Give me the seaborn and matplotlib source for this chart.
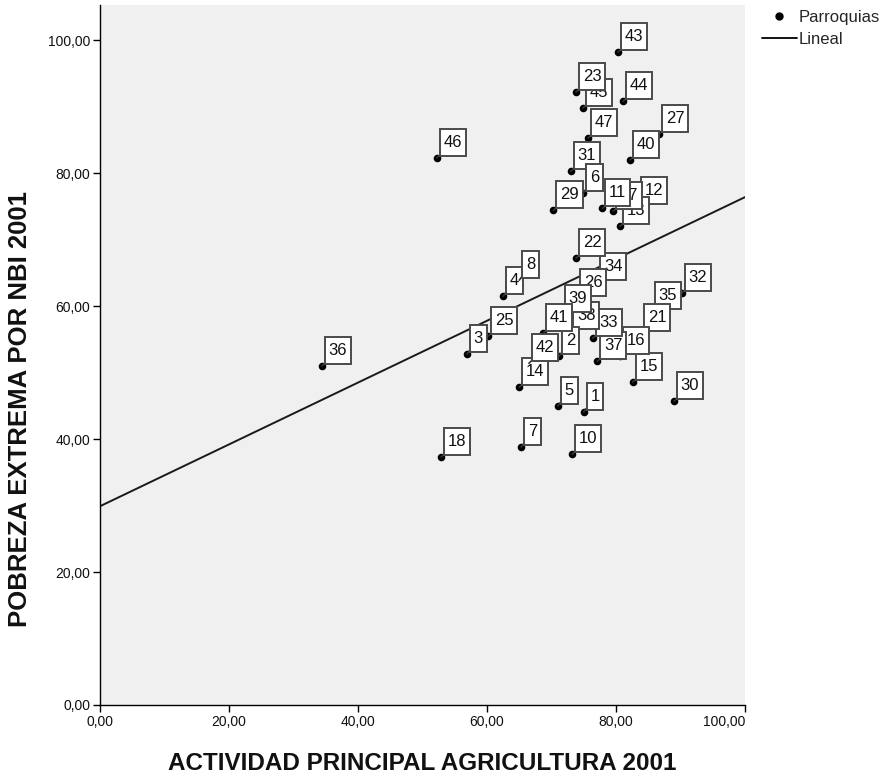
import matplotlib
matplotlib.use("Agg")
import matplotlib.pyplot as plt
from matplotlib.lines import Line2D
from matplotlib.path import Path
from matplotlib.ticker import FuncFormatter
import seaborn as sns
import pandas as pd

# ---- data ----
labels = ["36", "46", "18", "3", "25", "4", "8", "7", "14", "42", "5", "10", "1",
          "30", "15", "32", "35", "21", "16", "37", "33", "34", "26", "38", "39",
          "2", "41", "22", "29", "31", "6", "12", "13", "17", "11", "47", "27",
          "40", "45", "23", "44", "43"]
agri = [34.4, 52.2, 52.9, 56.9, 60.2, 62.5, 65.0, 65.3, 65.0, 66.5, 71.0, 73.2, 75.0,
        89.0, 82.6, 90.2, 85.6, 83.9, 80.6, 77.1, 76.4, 77.1, 74.0, 72.9, 71.6,
        71.2, 68.7, 73.8, 70.3, 73.0, 74.9, 83.4, 80.6, 79.6, 77.9, 75.7, 86.7,
        82.2, 74.9, 73.8, 81.1, 80.3]
pobreza = [51.0, 82.3, 37.3, 52.8, 55.5, 61.5, 63.9, 38.8, 47.8, 51.4, 45.0, 37.7, 44.1,
           45.7, 48.6, 62.0, 59.2, 55.9, 52.5, 51.7, 55.2, 63.6, 61.2, 56.2, 58.8,
           52.5, 55.9, 67.2, 74.4, 80.3, 77.0, 75.0, 72.0, 74.3, 74.7, 85.3, 85.9,
           82.0, 89.8, 92.2, 90.8, 98.2]
fit_intercept = 29.9
fit_slope = 0.465

x_ticks = [0, 20, 40, 60, 80, 100]
y_ticks = [0, 20, 40, 60, 80, 100]

df = pd.DataFrame({"label": labels, "agri": agri, "pobreza": pobreza})


def tall_box(x0, y0, width, height, mutation_size):
    px = 0.22 * mutation_size
    py = 0.36 * mutation_size
    x0, y0 = x0 - px, y0 - py
    x1, y1 = x0 + width + 2 * px, y0 + height + 2 * py
    return Path([(x0, y0), (x1, y0), (x1, y1), (x0, y1), (x0, y0)], closed=True)


# ---- style ----
sns.set_style("white")
plt.rcParams["font.family"] = ["Liberation Sans", "DejaVu Sans"]

fig = plt.figure(figsize=(8.87, 7.77), dpi=100)
ax = fig.add_axes([100 / 887, 1 - 705 / 777, 645 / 887, 700 / 777])
ax.set_facecolor("#f0f0f0")

sns.scatterplot(data=df, x="agri", y="pobreza", ax=ax, color="black", s=30,
                edgecolor="black", linewidth=0, zorder=3, legend=False)

ax.axline((0, fit_intercept), slope=fit_slope, color="#1a1a1a", lw=1.4, zorder=2)

for i, row in df.iterrows():
    ax.annotate(row["label"], (row["agri"], row["pobreza"]), xytext=(4.8, 5.8),
                textcoords="offset points", ha="left", va="bottom", fontsize=12,
                color="#111111", zorder=10 + i,
                bbox=dict(boxstyle=tall_box, fc="white", ec="#4a4a4a", lw=1.4),
                arrowprops=dict(arrowstyle="-", color="#333333", lw=1.2,
                                shrinkA=0, shrinkB=0))

ax.set_xlim(0, 100)
ax.set_ylim(0, 105.3)
ax.set_xticks(x_ticks)
ax.set_yticks(y_ticks)
fmt = FuncFormatter(lambda v, p: f"{v:.2f}".replace(".", ","))
ax.xaxis.set_major_formatter(fmt)
ax.yaxis.set_major_formatter(fmt)
ax.tick_params(axis="both", direction="out", length=5, width=1, color="black",
               labelsize=10, labelcolor="#111111", bottom=True, left=True, pad=2)
fig.canvas.draw()
ax.get_xticklabels()[-1].set_horizontalalignment("right")

for side in ["top", "right"]:
    ax.spines[side].set_visible(False)
for side in ["left", "bottom"]:
    ax.spines[side].set_color("black")
    ax.spines[side].set_linewidth(1)

ax.set_xlabel("ACTIVIDAD PRINCIPAL AGRICULTURA 2001", fontsize=17.5, fontweight="bold",
              color="#111111")
ax.set_ylabel("POBREZA EXTREMA POR NBI 2001", fontsize=18.5, fontweight="bold",
              color="#111111")
ax.xaxis.set_label_coords(0.5, (705 - 764) / 700)
ax.xaxis.label.set_verticalalignment("center")
ax.yaxis.set_label_coords((20 - 100) / 645, (705 - 409) / 700)
ax.yaxis.label.set_verticalalignment("center")

handles = [
    Line2D([], [], marker="o", color="black", linestyle="none", markersize=5),
    Line2D([], [], color="black", lw=1.3),
]
fig.legend(handles, ["Parroquias", "Lineal"], loc="upper left",
           bbox_to_anchor=(762 / 887, 1 - 10 / 777), frameon=False, fontsize=12,
           handlelength=2.1, handletextpad=0.12, labelspacing=0.42, borderpad=0,
           borderaxespad=0)

fig.savefig("out.png", dpi=100, facecolor="white")
